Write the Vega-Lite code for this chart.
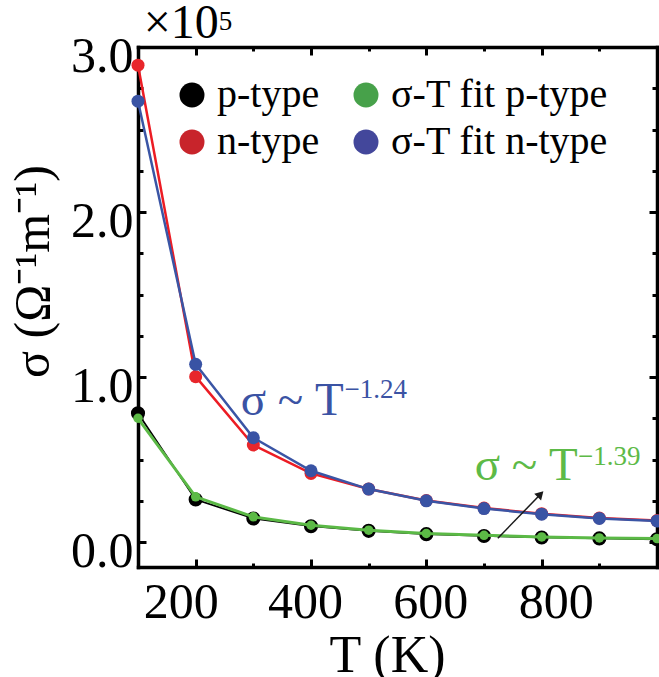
{
  "$schema": "https://vega.github.io/schema/vega-lite/v6.json",
  "autosize": {"type": "none"},
  "width": 519,
  "height": 520,
  "padding": {"left": 138, "top": 47, "right": 2, "bottom": 110},
  "background": "white",
  "config": {
    "view": {"stroke": null},
    "font": "'Liberation Serif', 'Times New Roman', Times, serif",
    "axis": {"grid": false, "domainColor": "black", "tickColor": "black", "labelColor": "black", "titleColor": "black", "labelFont": "'Liberation Serif', 'Times New Roman', Times, serif", "titleFont": "'Liberation Serif', 'Times New Roman', Times, serif", "titleFontWeight": "normal", "labelFlush": false, "labelOverlap": false, "domainWidth": 3.5, "tickWidth": 3, "domainCap": "square"},
    "legend": {"labelFont": "'Liberation Serif', 'Times New Roman', Times, serif"},
    "text": {"font": "'Liberation Serif', 'Times New Roman', Times, serif"}
  },
  "datasets": {
    "main": [
      {"T": 100, "s": 2.89, "series": "n-type"},
      {"T": 200, "s": 1.003, "series": "n-type"},
      {"T": 300, "s": 0.589, "series": "n-type"},
      {"T": 400, "s": 0.417, "series": "n-type"},
      {"T": 500, "s": 0.323, "series": "n-type"},
      {"T": 600, "s": 0.253, "series": "n-type"},
      {"T": 700, "s": 0.207, "series": "n-type"},
      {"T": 800, "s": 0.173, "series": "n-type"},
      {"T": 900, "s": 0.147, "series": "n-type"},
      {"T": 1000, "s": 0.131, "series": "n-type"},
      {"T": 100, "s": 2.672, "series": "σ-T fit n-type"},
      {"T": 200, "s": 1.078, "series": "σ-T fit n-type"},
      {"T": 300, "s": 0.633, "series": "σ-T fit n-type"},
      {"T": 400, "s": 0.433, "series": "σ-T fit n-type"},
      {"T": 500, "s": 0.322, "series": "σ-T fit n-type"},
      {"T": 600, "s": 0.251, "series": "σ-T fit n-type"},
      {"T": 700, "s": 0.204, "series": "σ-T fit n-type"},
      {"T": 800, "s": 0.170, "series": "σ-T fit n-type"},
      {"T": 900, "s": 0.144, "series": "σ-T fit n-type"},
      {"T": 1000, "s": 0.129, "series": "σ-T fit n-type"},
      {"T": 100, "s": 0.781, "series": "p-type"},
      {"T": 200, "s": 0.259, "series": "p-type"},
      {"T": 300, "s": 0.144, "series": "p-type"},
      {"T": 400, "s": 0.097, "series": "p-type"},
      {"T": 500, "s": 0.069, "series": "p-type"},
      {"T": 600, "s": 0.049, "series": "p-type"},
      {"T": 700, "s": 0.038, "series": "p-type"},
      {"T": 800, "s": 0.029, "series": "p-type"},
      {"T": 900, "s": 0.023, "series": "p-type"},
      {"T": 1000, "s": 0.018, "series": "p-type"},
      {"T": 100, "s": 0.751, "series": "σ-T fit p-type"},
      {"T": 200, "s": 0.275, "series": "σ-T fit p-type"},
      {"T": 300, "s": 0.154, "series": "σ-T fit p-type"},
      {"T": 400, "s": 0.103, "series": "σ-T fit p-type"},
      {"T": 500, "s": 0.073, "series": "σ-T fit p-type"},
      {"T": 600, "s": 0.053, "series": "σ-T fit p-type"},
      {"T": 700, "s": 0.042, "series": "σ-T fit p-type"},
      {"T": 800, "s": 0.032, "series": "σ-T fit p-type"},
      {"T": 900, "s": 0.026, "series": "σ-T fit p-type"},
      {"T": 1000, "s": 0.022, "series": "σ-T fit p-type"}
    ]
  },
  "resolve": {"axis": {"x": "independent", "y": "independent"}},
  "layer": [
    {
      "data": {"name": "main"},
      "transform": [{"filter": "datum.series === 'n-type'"}],
      "mark": {"type": "line", "color": "#ec1c24", "strokeWidth": 2.5},
      "encoding": {
        "x": {"field": "T", "type": "quantitative", "scale": {"domain": [100, 1000], "nice": false, "zero": false},
          "axis": {"orient": "bottom", "values": [200, 400, 600, 800], "format": "d", "tickSize": -8, "labelFontSize": 50, "labelBaseline": "alphabetic", "labelPadding": 58, "title": "T (K)", "titleFontSize": 52, "titleX": 249, "titleY": 104, "titleBaseline": "alphabetic", "titleAnchor": null,
            "labelOffset": {"condition": [{"test": "datum.value == 200", "value": -15}, {"test": "datum.value == 400", "value": -6}, {"test": "datum.value == 600", "value": 4}], "value": 14}}},
        "y": {"field": "s", "type": "quantitative", "scale": {"domain": [-0.15, 3.0], "nice": false, "zero": false},
          "axis": {"orient": "left", "values": [0, 1, 2, 3], "format": ".1f", "tickSize": -8, "labelFontSize": 50, "labelBaseline": "alphabetic", "labelOffset": 24, "labelPadding": 13, "title": "σ (Ω⁻¹m⁻¹)", "titleFontSize": 50, "titleAngle": -90, "titleX": -90, "titleY": 224, "titleBaseline": "alphabetic", "titleAlign": "center"}}
      }
    },
    {
      "data": {"name": "main"},
      "transform": [{"filter": "datum.series === 'n-type'"}],
      "mark": {"type": "point", "filled": true, "color": "#e8262b", "size": 169, "opacity": 1, "clip": false},
      "encoding": {
        "x": {"field": "T", "type": "quantitative", "axis": {"orient": "bottom", "values": [300, 500, 700, 900], "tickSize": -4, "labels": false, "domain": false, "title": null}},
        "y": {"field": "s", "type": "quantitative", "axis": {"orient": "left", "values": [0.25, 0.5, 0.75, 1.25, 1.5, 1.75, 2.25, 2.5, 2.75], "tickSize": -5, "labels": false, "domain": false, "title": null}}
      }
    },
    {
      "data": {"name": "main"},
      "transform": [{"filter": "datum.series === 'σ-T fit n-type'"}],
      "mark": {"type": "line", "color": "#3a55a5", "strokeWidth": 2.5},
      "encoding": {
        "x": {"field": "T", "type": "quantitative", "axis": {"orient": "top", "values": [200, 400, 600, 800], "tickSize": -8, "labels": false, "title": null}},
        "y": {"field": "s", "type": "quantitative", "axis": {"orient": "right", "values": [0, 1, 2, 3], "tickSize": -8, "labels": false, "title": null}}
      }
    },
    {
      "data": {"name": "main"},
      "transform": [{"filter": "datum.series === 'σ-T fit n-type'"}],
      "mark": {"type": "point", "filled": true, "color": "#3953a4", "size": 169, "opacity": 1, "clip": false},
      "encoding": {
        "x": {"field": "T", "type": "quantitative", "axis": {"orient": "top", "values": [300, 500, 700, 900], "tickSize": -4, "labels": false, "domain": false, "title": null}},
        "y": {"field": "s", "type": "quantitative", "axis": {"orient": "right", "values": [0.25, 0.5, 0.75, 1.25, 1.5, 1.75, 2.25, 2.5, 2.75], "tickSize": -5, "labels": false, "domain": false, "title": null}}
      }
    },
    {
      "data": {"name": "main"},
      "transform": [{"filter": "datum.series === 'p-type'"}],
      "mark": {"type": "line", "color": "black", "strokeWidth": 1.8},
      "encoding": {
        "x": {"field": "T", "type": "quantitative", "axis": null},
        "y": {"field": "s", "type": "quantitative", "axis": null}
      }
    },
    {
      "data": {"name": "main"},
      "transform": [{"filter": "datum.series === 'p-type'"}],
      "mark": {"type": "point", "filled": true, "color": "black", "size": 200, "opacity": 1, "clip": false},
      "encoding": {
        "x": {"field": "T", "type": "quantitative", "axis": null},
        "y": {"field": "s", "type": "quantitative", "axis": null}
      }
    },
    {
      "data": {"name": "main"},
      "transform": [{"filter": "datum.series === 'σ-T fit p-type'"}],
      "mark": {"type": "line", "color": "#5bb946", "strokeWidth": 3},
      "encoding": {
        "x": {"field": "T", "type": "quantitative", "axis": null},
        "y": {"field": "s", "type": "quantitative", "axis": null}
      }
    },
    {
      "data": {"name": "main"},
      "transform": [{"filter": "datum.series === 'σ-T fit p-type'"}],
      "mark": {"type": "point", "filled": true, "color": "#5cba46", "size": 90, "opacity": 1, "clip": false},
      "encoding": {
        "x": {"field": "T", "type": "quantitative", "axis": null},
        "y": {"field": "s", "type": "quantitative", "axis": null}
      }
    },
    {
      "data": {"name": "main"},
      "mark": {"type": "point", "filled": true, "opacity": 0},
      "encoding": {
        "x": {"field": "T", "type": "quantitative", "axis": null},
        "y": {"field": "s", "type": "quantitative", "axis": null},
        "color": {"field": "series", "type": "nominal",
          "scale": {"domain": ["p-type", "n-type", "σ-T fit p-type", "σ-T fit n-type"], "range": ["#000000", "#c8242b", "#47a14a", "#43479b"]},
          "legend": {"orient": "none", "legendX": 34, "legendY": 28, "columns": 2, "title": null, "symbolType": "circle", "symbolSize": 625, "symbolStrokeWidth": 0, "labelFontSize": 40, "labelColor": "black", "labelOffset": 5, "columnPadding": 26, "rowPadding": 7, "padding": 0, "labelLimit": 400,
            "encode": {"symbols": {"update": {"opacity": {"value": 1}}}}}}
      }
    },
    {
      "data": {"values": [{"T": 724, "s": 0.024, "T2": 798, "s2": 0.291}]},
      "mark": {"type": "rule", "color": "#1a1a1a", "strokeWidth": 1.5},
      "encoding": {
        "x": {"field": "T", "type": "quantitative", "axis": null},
        "y": {"field": "s", "type": "quantitative", "axis": null},
        "x2": {"field": "T2"},
        "y2": {"field": "s2"}
      }
    },
    {
      "data": {"values": [{"T": 798, "s": 0.291}]},
      "mark": {"type": "point", "shape": "triangle-up", "angle": 44, "filled": true, "color": "#1a1a1a", "size": 90, "opacity": 1},
      "encoding": {
        "x": {"field": "T", "type": "quantitative", "axis": null},
        "y": {"field": "s", "type": "quantitative", "axis": null}
      }
    },
    {
      "data": {"values": [{"T": 278, "s": 0.771, "label": "σ ~ T"}]},
      "mark": {"type": "text", "align": "left", "baseline": "alphabetic", "fontSize": 47, "color": "#3b53a4"},
      "encoding": {
        "x": {"field": "T", "type": "quantitative", "axis": null},
        "y": {"field": "s", "type": "quantitative", "axis": null},
        "text": {"field": "label"}
      }
    },
    {
      "data": {"values": [{"T": 458, "s": 0.872, "label": "−1.24"}]},
      "mark": {"type": "text", "align": "left", "baseline": "alphabetic", "fontSize": 27, "color": "#3b53a4"},
      "encoding": {
        "x": {"field": "T", "type": "quantitative", "axis": null},
        "y": {"field": "s", "type": "quantitative", "axis": null},
        "text": {"field": "label"}
      }
    },
    {
      "data": {"values": [{"T": 684, "s": 0.377, "label": "σ ~ T"}]},
      "mark": {"type": "text", "align": "left", "baseline": "alphabetic", "fontSize": 47, "color": "#5dba47"},
      "encoding": {
        "x": {"field": "T", "type": "quantitative", "axis": null},
        "y": {"field": "s", "type": "quantitative", "axis": null},
        "text": {"field": "label"}
      }
    },
    {
      "data": {"values": [{"T": 863, "s": 0.468, "label": "−1.39"}]},
      "mark": {"type": "text", "align": "left", "baseline": "alphabetic", "fontSize": 27, "color": "#5dba47"},
      "encoding": {
        "x": {"field": "T", "type": "quantitative", "axis": null},
        "y": {"field": "s", "type": "quantitative", "axis": null},
        "text": {"field": "label"}
      }
    },
    {
      "data": {"values": [{"T": 110, "s": 3.054, "label": "×10"}]},
      "mark": {"type": "text", "align": "left", "baseline": "alphabetic", "fontSize": 48, "color": "black"},
      "encoding": {
        "x": {"field": "T", "type": "quantitative", "axis": null},
        "y": {"field": "s", "type": "quantitative", "axis": null},
        "text": {"field": "label"}
      }
    },
    {
      "data": {"values": [{"T": 240, "s": 3.103, "label": "5"}]},
      "mark": {"type": "text", "align": "left", "baseline": "alphabetic", "fontSize": 27, "color": "black"},
      "encoding": {
        "x": {"field": "T", "type": "quantitative", "axis": null},
        "y": {"field": "s", "type": "quantitative", "axis": null},
        "text": {"field": "label"}
      }
    }
  ]
}
